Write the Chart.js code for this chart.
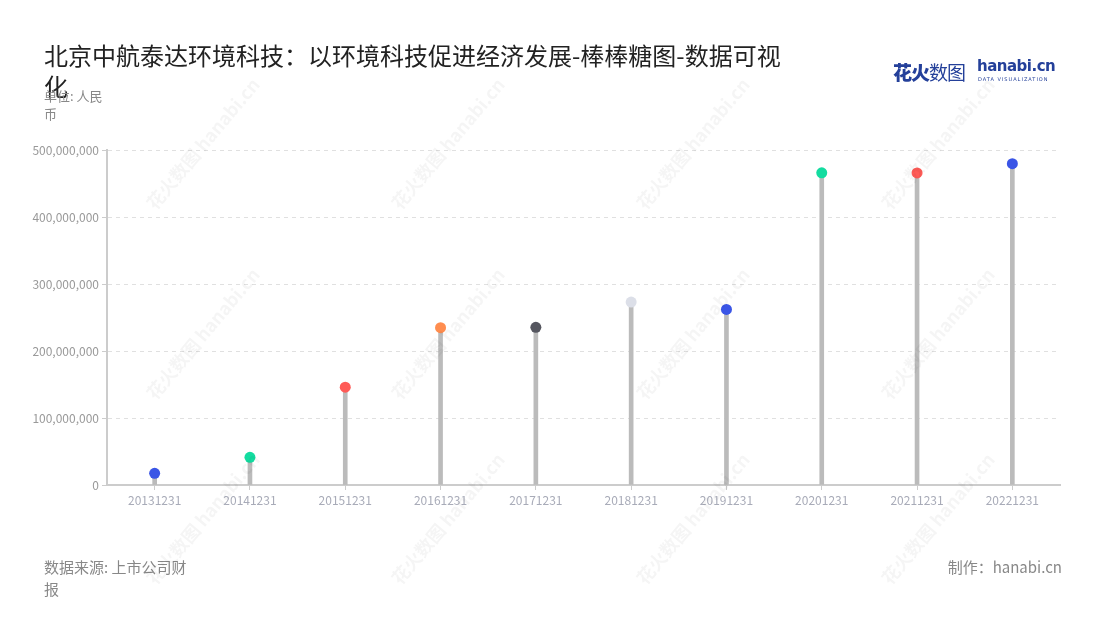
<!DOCTYPE html>
<html><head><meta charset="utf-8">
<script src="https://cdn.jsdelivr.net/npm/chart.js@4.4.0/dist/chart.umd.min.js"></script>
<style>
html,body{margin:0;padding:0;background:#fff;}
#wrap{position:relative;width:1100px;height:620px;overflow:hidden;font-family:"Noto Sans CJK SC","Noto Sans",sans-serif;}
canvas{position:absolute;left:0;top:0;}
.t{position:absolute;}
#title{left:44px;top:39px;width:750px;font-size:24px;line-height:31px;color:#222;}
#unit{left:44px;top:87px;width:66px;font-size:13px;line-height:18px;color:#888;}
#src{left:44px;top:556px;width:152px;font-size:15px;line-height:22px;color:#888;}
#made{right:38px;top:556px;font-size:15px;line-height:22px;color:#888;}
#logo{left:893px;top:58px;width:160px;height:30px;}
.wm{position:absolute;transform:rotate(-50deg);color:#000;opacity:0.04;font-size:18px;font-weight:bold;white-space:nowrap;pointer-events:none;}
</style></head>
<body><div id="wrap">
<canvas id="c" width="1100" height="620"></canvas>
<div class="t" id="title">北京中航泰达环境科技：以环境科技促进经济发展-棒棒糖图-数据可视化</div>
<div class="t" id="unit">单位: 人民币</div>
<div class="t" id="src">数据来源: 上市公司财报</div>
<div class="t" id="made">制作：hanabi.cn</div>
<div class="t" id="logo">
  <span style="position:absolute;left:0;top:0;font-size:19px;font-weight:900;color:#24409a;letter-spacing:-1px;">花火<span style="font-weight:400">数图</span></span>
  <span style="position:absolute;left:84px;top:-1px;font-size:15px;font-weight:bold;color:#24409a;font-family:'DejaVu Sans',sans-serif;letter-spacing:-0.5px;">hanabi.cn</span>
  <span style="position:absolute;left:85px;top:18px;font-size:5px;color:#24409a;letter-spacing:1px;font-family:'DejaVu Sans',sans-serif;">DATA VISUALIZATION</span>
</div>
</div>
<script>
const categories = ["20131231","20141231","20151231","20161231","20171231","20181231","20191231","20201231","20211231","20221231"];
const values = [17400000, 41300000, 146000000, 234800000, 235300000, 273000000, 262000000, 466000000, 465700000, 479600000];
const pointColors = ["#3a55e6","#13dca0","#ff5b57","#ff8d4f","#55565f","#dcdfe8","#3a55e6","#13dca0","#ff5b57","#3a55e6"];
const yTicks = [0, 100000000, 200000000, 300000000, 400000000, 500000000];

// faint watermarks
const wrap = document.getElementById('wrap');
[150, 395, 640, 885].forEach(x => {
  [140, 330, 515].forEach(y => {
    const d = document.createElement('div');
    d.className = 'wm';
    d.textContent = '花火数图 hanabi.cn';
    d.style.left = (x - 30) + 'px';
    d.style.top = (y - 10) + 'px';
    wrap.appendChild(d);
  });
});

new Chart(document.getElementById('c'), {
  type: 'bar',
  data: {
    labels: categories,
    datasets: [
      {
        type: 'line',
        data: values,
        showLine: false,
        pointRadius: 5.5,
        pointHoverRadius: 5.5,
        pointBackgroundColor: pointColors,
        pointBorderColor: pointColors,
        pointBorderWidth: 0,
        order: 0
      },
      {
        type: 'bar',
        data: values,
        backgroundColor: '#bbbbbb',
        barThickness: 4,
        order: 1
      }
    ]
  },
  options: {
    responsive: false,
    animation: false,
    layout: { padding: { left: 0, right: 40, top: 150, bottom: 95 } },
    plugins: { legend: { display: false }, tooltip: { enabled: false } },
    scales: {
      x: {
        afterFit: s => { s.height = 40; },
        grid: { display: true, drawOnChartArea: false, drawTicks: true, tickLength: 5, offset: false, color: '#cccccc', tickColor: '#cccccc' },
        border: { display: true, color: '#cccccc', width: 2 },
        ticks: { color: '#a8abb8', font: { size: 12, family: 'Noto Sans CJK SC' }, padding: 3, maxRotation: 0, autoSkip: false }
      },
      y: {
        min: 0, max: 500000000,
        afterFit: s => { s.width = 107; },
        afterBuildTicks: s => { s.ticks = yTicks.map(v => ({ value: v })); },
        grid: { color: '#e0e0e0', tickColor: '#cccccc', tickLength: 5, drawTicks: true },
        border: { display: true, color: '#cccccc', width: 2, dash: [4, 4] },
        ticks: { color: '#999999', font: { size: 12, family: 'Noto Sans CJK SC' }, padding: 3,
          callback: v => v.toLocaleString('en-US') }
      }
    }
  }
});
</script>
</body></html>
